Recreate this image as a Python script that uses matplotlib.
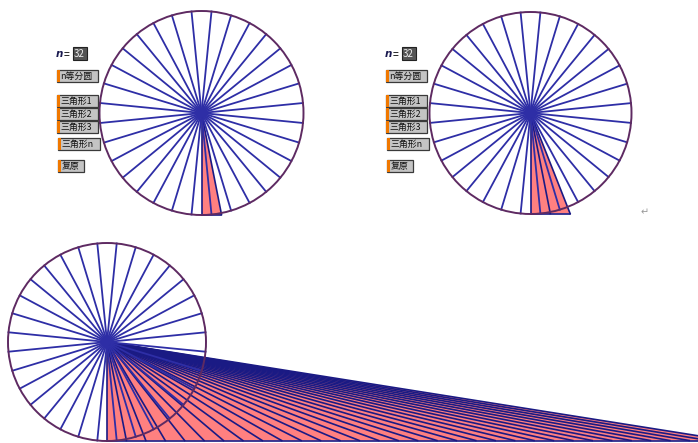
"""
Circle area demo: a circle cut into n sectors, the sector triangles sheared
onto a base line so that they add up to one big triangle (1/2 * C * r).
"""
import numpy as np
import matplotlib.pyplot as plt
from matplotlib.patches import Circle, Polygon, Rectangle

plt.rcParams['font.family'] = ['Noto Sans CJK SC', 'DejaVu Sans']

# data
n = 32
centers = [(201.5, 113.0), (530.5, 113.0), (107.0, 342.0)]
radii = [102.0, 101.0, 99.0]
n_triangles = [1, 2, 32]          # how many triangles are laid out in each panel
has_buttons = [True, True, False]
button_labels = ['n等分圆', '三角形1', '三角形2', '三角形3', '三角形n', '复原']
n_value_label = '32'

CIRCLE_COLOR = '#5e2a62'
SPOKE_COLOR = '#2e2ea6'
FAN_COLOR = '#1a1a84'
FILL_COLOR = '#ff8080'

fig = plt.figure(figsize=(6.98, 4.43), dpi=100)
ax = fig.add_axes([0, 0, 1, 1])
ax.set_xlim(0, 698)
ax.set_ylim(443, 0)
ax.axis('off')


def draw_panel(cx, cy, r, k):
    # spokes at -90 +/- half a step, so no spoke points straight down
    ang = np.pi / 2 + np.pi / n + 2 * np.pi * np.arange(n) / n
    for a in ang:
        ax.plot([cx, cx + r * np.cos(a)], [cy, cy + r * np.sin(a)],
                color=SPOKE_COLOR, lw=1.3, zorder=3)
    ax.add_patch(Circle((cx, cy), r, fill=False, ec=CIRCLE_COLOR, lw=1.4, zorder=4))

    # sheared triangles: apex at centre, bases laid along one line
    b = 2 * r * np.sin(np.pi / n)
    h = r * np.cos(np.pi / n)
    xs = cx + b * np.arange(k + 1)
    for i in range(k):
        ax.add_patch(Polygon([(cx, cy), (xs[i], cy + h), (xs[i + 1], cy + h)],
                             closed=True, fc=FILL_COLOR, ec='none', zorder=1))
    for x in xs:
        ax.plot([cx, x], [cy, cy + h], color=FAN_COLOR, lw=1.2, zorder=2)
    ax.plot([xs[0], xs[-1]], [cy + h, cy + h], color=FAN_COLOR, lw=1.2, zorder=2)


def draw_buttons(x0):
    ax.text(x0 + 0, 54, 'n', fontstyle='italic', fontweight='bold', fontsize=7.5,
            va='center', ha='left', color='#1a1a50', family=['DejaVu Sans'], zorder=5)
    ax.text(x0 + 8, 54, '=', fontsize=7.5, va='center', ha='left', zorder=5)
    ax.add_patch(Rectangle((x0 + 17, 47), 14, 13, fc='#555555', ec='#222222',
                           lw=0.8, zorder=5))
    ax.text(x0 + 24, 53.5, n_value_label, fontsize=7, color='#eeeeee',
            va='center', ha='center', zorder=6)
    tops = [70, 95, 108, 121, 138, 160]
    widths = [41, 41, 41, 41, 42, 26]
    lefts = [0, 0, 0, 0, 1, 1]
    for lab, y, w, dx in zip(button_labels, tops, widths, lefts):
        ax.add_patch(Rectangle((x0 + 1 + dx, y), w, 12, fc='#c4c4c4',
                               ec='#3a3a3a', lw=0.9, zorder=5))
        ax.add_patch(Rectangle((x0 + 1 + dx, y), 3, 12, fc='#f07800',
                               ec='none', zorder=6))
        ax.text(x0 + 5 + dx, y + 6.2, lab, fontsize=6.4, color='#111111',
                va='center', ha='left', zorder=6)


for (cx, cy), r, k, btn in zip(centers, radii, n_triangles, has_buttons):
    draw_panel(cx, cy, r, k)
    if btn:
        draw_buttons(cx - 146)

ax.text(645, 212, '↵', fontsize=7, color='#999999', va='center', ha='center',
        family=['DejaVu Sans'])

fig.savefig('out.png', dpi=100)
